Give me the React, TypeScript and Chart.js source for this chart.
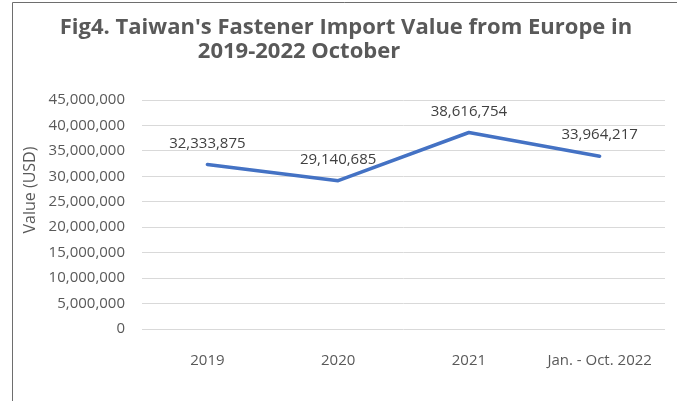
import React, { useEffect, useRef } from "react";
import { Chart, registerables } from "chart.js";

Chart.register(...registerables);

const titleLines = ["Fig4. Taiwan's Fastener Import Value from Europe in", "2019-2022 October"];
const categories = ["2019", "2020", "2021", "Jan. - Oct. 2022"];
const importValues = [32333875, 29140685, 38616754, 33964217];
const yAxisTitle = "Value (USD)";
const yMin = 0;
const yMax = 45000000;
const yStep = 5000000;

const FONT = "'Open Sans', 'Noto Sans', sans-serif";

const decorPlugin = {
  id: "decor",
  beforeDraw(chart: any) {
    const ctx = chart.ctx;
    ctx.save();
    ctx.strokeStyle = "#6e6e6e";
    ctx.lineWidth = 1;
    ctx.beginPath();
    ctx.moveTo(12.5, chart.height);
    ctx.lineTo(12.5, 2.5);
    ctx.lineTo(chart.width, 2.5);
    ctx.stroke();
    ctx.restore();
  },
  afterDraw(chart: any) {
    const ctx = chart.ctx;
    ctx.save();
    // title
    ctx.fillStyle = "#595959";
    ctx.font = `bold 22px ${FONT}`;
    ctx.textAlign = "center";
    ctx.textBaseline = "alphabetic";
    ctx.fillText(titleLines[0], 346, 34);
    ctx.fillText(titleLines[1], 299, 58);
    // y axis title
    ctx.font = `16px ${FONT}`;
    ctx.translate(30, 190);
    ctx.rotate(-Math.PI / 2);
    ctx.textBaseline = "middle";
    ctx.fillText(yAxisTitle, 0, 0);
    ctx.restore();
    // data labels
    const meta = chart.getDatasetMeta(0);
    ctx.save();
    ctx.fillStyle = "#404040";
    ctx.font = `15px ${FONT}`;
    ctx.textAlign = "center";
    ctx.textBaseline = "middle";
    meta.data.forEach((pt: any, i: number) => {
      const v = chart.data.datasets[0].data[i] as number;
      ctx.fillText(v.toLocaleString("en-US"), pt.x, pt.y - 21);
    });
    ctx.restore();
  },
};

export default function App() {
  const ref = useRef<HTMLCanvasElement>(null);
  useEffect(() => {
    document.body.style.margin = "0";
    const chart = new Chart(ref.current!, {
      type: "line",
      data: {
        labels: categories,
        datasets: [
          {
            data: importValues,
            borderColor: "#4472C4",
            borderWidth: 3.5,
            pointRadius: 0,
            tension: 0,
            borderJoinStyle: "round",
            borderCapStyle: "round",
          },
        ],
      },
      options: {
        animation: false,
        responsive: false,
        layout: { padding: { top: 100, right: 12, left: 0, bottom: 0 } },
        plugins: { legend: { display: false }, title: { display: false }, tooltip: { enabled: false } },
        scales: {
          x: {
            offset: true,
            grid: { display: false },
            border: { display: false },
            ticks: { color: "#595959", font: { family: FONT, size: 15 }, padding: 15, maxRotation: 0 },
            afterFit(scale: any) {
              scale.height = 72;
            },
          },
          y: {
            min: yMin,
            max: yMax,
            grid: { color: "#d9d9d9", lineWidth: 1, drawTicks: false },
            border: { display: false },
            ticks: {
              stepSize: yStep,
              color: "#595959",
              font: { family: FONT, size: 15 },
              padding: 17,
              callback: (v: any) => Number(v).toLocaleString("en-US"),
            },
            afterFit(scale: any) {
              scale.width = 142;
            },
          },
        },
      },
      plugins: [decorPlugin],
    });
    return () => chart.destroy();
  }, []);
  return <canvas ref={ref} width={677} height={401} />;
}
